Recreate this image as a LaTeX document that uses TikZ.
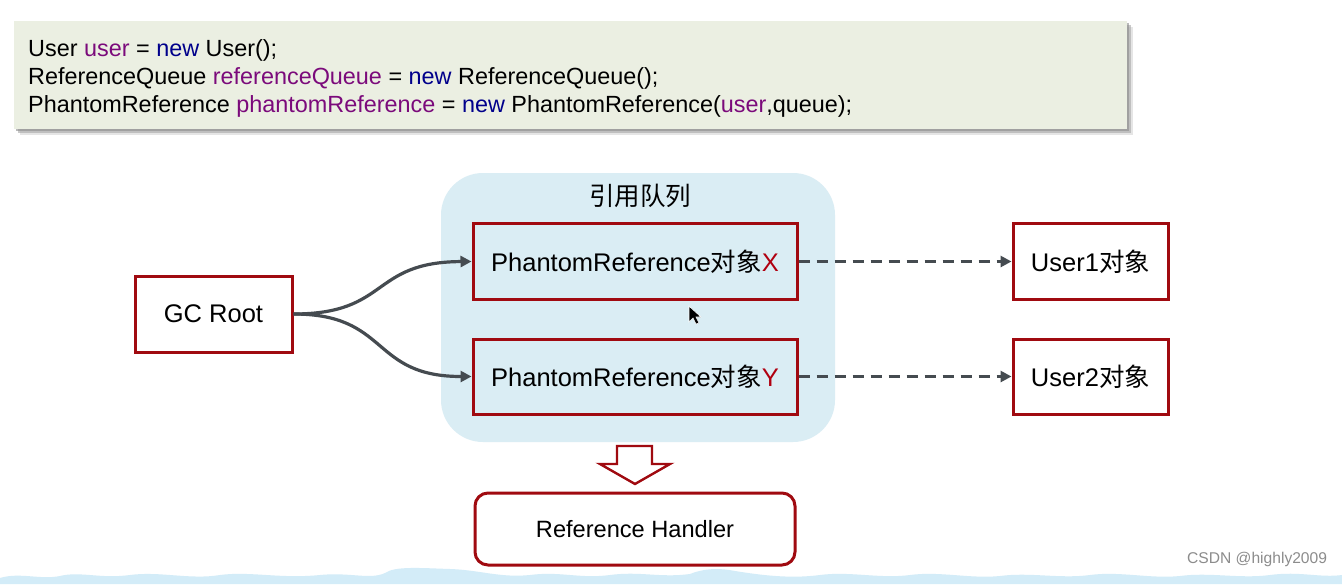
\documentclass[tikz,border=0pt]{standalone}
\usepackage{fontspec}
\setmainfont{Liberation Sans}
\newfontfamily\cjk{Noto Sans CJK SC}
\usetikzlibrary{arrows.meta}
\definecolor{boxred}{HTML}{A00A10}
\definecolor{xred}{HTML}{B00010}
\definecolor{codebg}{HTML}{EBEFE2}
\definecolor{queuebg}{HTML}{DAEDF4}
\definecolor{linegray}{HTML}{454B50}
\definecolor{kwblue}{HTML}{00008B}
\definecolor{varpurple}{HTML}{7B0A7B}
\definecolor{wave}{HTML}{D3ECF8}
\tikzset{
  redbox/.style={draw=boxred, line width=3pt, fill=white, inner sep=0pt, font=\fontsize{25.5}{30}\selectfont},
  qbox/.style={redbox, fill=queuebg},
  link/.style={draw=linegray, line width=3.2pt, -{Triangle[length=11pt,width=11pt]}},
  dlink/.style={link, dash pattern=on 11pt off 7pt},
  codeline/.style={anchor=base west, inner sep=0pt, font=\fontsize{23.4}{28}\selectfont},
}
\newcommand{\kw}[1]{\textcolor{kwblue}{#1}}
\newcommand{\vr}[1]{\textcolor{varpurple}{#1}}
\begin{document}
\begin{tikzpicture}[x=1pt,y=-1pt]
\useasboundingbox (0,0) rectangle (1342,584);
\fill[white] (0,0) rectangle (1342,584);
% code box with soft shadow
\fill[black!20, opacity=0.5] (20,27) rectangle (1133,135);
\fill[black!35, opacity=0.6] (18,25) rectangle (1131,133);
\fill[black!45, opacity=0.6] (16,23) rectangle (1129,131);
\fill[codebg] (14,21) rectangle (1127,129);
\node[codeline] (c1) at (28,56) {User \vr{user} = \kw{new} User();};
\node[codeline] (c2) at (28,84) {ReferenceQueue \vr{referenceQueue} = \kw{new} ReferenceQueue();};
\node[codeline] (c3) at (28,112) {PhantomReference \vr{phantomReference} = \kw{new} PhantomReference(\vr{user},queue);};
% queue
\node[fill=queuebg, rounded corners=42pt, minimum width=394pt, minimum height=269pt, inner sep=0pt] (queue) at (638,307.5) {};
\node[font=\cjk\fontsize{25.5}{30}\selectfont, inner sep=0pt] (qtitle) at (640,196) {引用队列};
\node[qbox, minimum width=324pt, minimum height=76pt] (px) at (635,261.5) {PhantomReference{\cjk 对象}\textcolor{xred}{X}};
\node[qbox, minimum width=324pt, minimum height=75pt] (py) at (635,376.5) {PhantomReference{\cjk 对象}\textcolor{xred}{Y}};
\node[redbox, minimum width=157pt, minimum height=76pt] (gc) at (213.5,314) {GC Root};
\node[redbox, minimum width=155pt, minimum height=76pt] (u1) at (1090.5,261.5) {User1{\cjk 对象}};
\node[redbox, minimum width=155pt, minimum height=75pt] (u2) at (1090.5,376.5) {User2{\cjk 对象}};
% connectors
\draw[link] (gc.east) .. controls (390,314) and (370,262) .. (px.west);
\draw[link] (gc.east) .. controls (390,314) and (370,376.5) .. (py.west);
\draw[dlink] (px.east) -- (u1.west);
\draw[dlink] (py.east) -- (u2.west);
% block arrow
\draw[boxred, line width=2.4pt, fill=white, line join=miter]
  (617,446) -- (652,446) -- (652,464) -- (670,464) -- (635,484) -- (600,464) -- (617,464) -- cycle;
\node[redbox, rounded corners=13pt, minimum width=320pt, minimum height=72pt, font=\fontsize{23.6}{28}\selectfont] (rh) at (635,529) {Reference Handler};
% cursor
\filldraw[fill=black, draw=white, line width=0.6pt] (689,306) -- (689,322) -- (693,318) -- (696,324) -- (699,323) -- (696,317) -- (701,317) -- cycle;
% watermark
\node[anchor=base west, inner sep=0pt, text=black!45, font=\fontsize{15.6}{17}\selectfont] (wm) at (1187,563) {CSDN @highly2009};
% bottom wave
\fill[wave] (0,584) -- (0,578) .. controls (20,572) and (40,580) .. (60,576)
  .. controls (80,571) and (100,579) .. (130,575) .. controls (160,571) and (190,580) .. (220,575)
  .. controls (250,571) and (280,579) .. (320,575) .. controls (350,572) and (370,580) .. (385,573)
  .. controls (395,566) and (420,568) .. (450,569) .. controls (480,570) and (500,578) .. (530,575)
  .. controls (560,571) and (580,579) .. (610,575) .. controls (640,571) and (660,578) .. (690,574)
  .. controls (705,568) and (720,568) .. (735,571) .. controls (760,575) and (790,579) .. (820,575)
  .. controls (850,571) and (880,579) .. (910,575) .. controls (940,571) and (970,579) .. (1000,576)
  .. controls (1030,572) and (1060,579) .. (1090,575) .. controls (1120,571) and (1150,579) .. (1180,576)
  .. controls (1210,572) and (1240,579) .. (1270,575) .. controls (1300,571) and (1320,578) .. (1342,575)
  -- (1342,584) -- cycle;
\end{tikzpicture}
\end{document}
